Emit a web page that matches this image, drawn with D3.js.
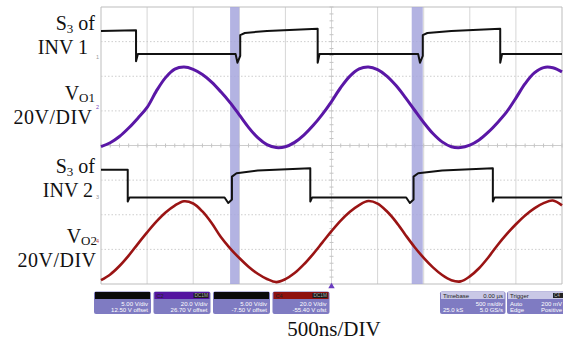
<!DOCTYPE html>
<html>
<head>
<meta charset="utf-8">
<script src="https://cdn.jsdelivr.net/npm/d3@7"></script>
<style>
  html, body { margin: 0; padding: 0; background: #fff; }
  svg { display: block; }
</style>
</head>
<body>
<svg id="scope" width="563" height="343"></svg>
<script>
// ---- acquisition data (time in µs, voltages in V) ----
const timeUs = [0.0,0.1,0.2,0.3,0.4,0.5,0.6,0.7,0.8,0.9,1.0,1.1,1.2,1.3,1.4,1.5,1.6,1.7,1.8,1.9,
                2.0,2.1,2.2,2.3,2.4,2.5,2.6,2.7,2.8,2.9,3.0,3.1,3.2,3.3,3.4,3.5,3.6,3.7,3.8,3.9,
                4.0,4.1,4.2,4.3,4.4,4.5,4.6,4.7,4.8,4.9,5.0];

// output voltage of inverter 1 (channel 2)
const vo1 = [-22.7,-20.4,-16.8,-11.9,-6.2,0.0,9.4,17.2,22.1,23.3,22.0,19.0,14.6,9.0,2.8,-4.3,-11.5,-17.5,-21.5,-23.2,
             -22.7,-20.2,-16.0,-10.5,-4.0,3.4,11.5,18.1,22.2,23.3,21.8,18.1,12.6,5.8,-1.5,-8.7,-15.1,-19.9,-22.7,-23.2,
             -21.8,-18.8,-14.3,-8.8,-2.6,5.4,13.7,19.9,23.0,22.9,20.5];

// output voltage of inverter 2 (channel 4)
const vo2 = [-22.4,-19.1,-14.2,-8.2,-1.4,5.2,11.4,16.7,20.7,23.2,21.9,17.3,10.6,2.5,-4.0,-9.6,-14.6,-18.7,-21.7,-23.5,
             -21.8,-18.3,-13.3,-7.3,-0.7,5.9,12.0,17.1,21.0,23.3,21.8,17.4,11.3,3.9,-3.2,-9.5,-15.0,-19.4,-22.4,-23.1,
             -20.2,-15.5,-9.3,-2.2,4.2,9.9,15.0,19.1,22.1,23.6,20.8];

// gate signal S3 of inverter 1 (channel 1): edge times and levels
const s3Inv1Time = [0.00,0.38,0.38,0.40,1.46,1.48,1.51,1.51,1.56,1.80,2.35,2.35,2.37,3.44,3.46,3.49,3.49,3.54,3.80,4.33,4.33,4.35,5.00];
const s3Inv1Volt = [3.8, 3.9, -0.6,0.45,0.45,-0.8,0.2, 3.2, 3.5, 3.8, 4.1, -0.8,0.45,0.45,-0.8,0.2, 3.2, 3.5, 3.8, 4.1, -0.8,0.45,0.45];

// gate signal S3 of inverter 2 (channel 3)
const s3Inv2Time = [0.00,0.29,0.29,0.31,1.34,1.38,1.42,1.42,1.47,1.70,2.27,2.27,2.29,3.31,3.35,3.39,3.39,3.44,3.70,4.25,4.25,4.27,5.00];
const s3Inv2Volt = [4.0, 4.0, -0.6,0.0, 0.0, -0.8,-0.3,3.0, 3.5, 3.9, 4.2, -0.6,0.0, 0.0, -0.8,-0.3,3.0, 3.5, 3.9, 4.2, -0.6,0.0, 0.0];

// dead-time windows highlighted on screen (µs)
const deadTimeStart = [1.40, 3.37];
const deadTimeEnd   = [1.50, 3.49];

// channel settings
const channelIds   = ["C1", "C2", "C3", "C4"];
const voltsPerDiv  = [5, 20, 5, 20];
const vdivLabels   = ["5.00 V/div", "20.0 V/div", "5.00 V/div", "20.0 V/div"];
const offsetLabels = ["12.50 V offset", "26.70 V offset", "-7.50 V offset", "-55.40 V ofst"];
const markerLabels = ["1", "2", "3", "4"];

// timebase / trigger readouts
const timebaseLabels = ["Timebase", "0.00 µs", "500 ns/div", "25.0 kS", "5.0 GS/s"];
const triggerLabels  = ["Trigger", "C4", "Auto", "200 mV", "Edge", "Positive"];

// ---- layout ----
const plot = { left: 101, right: 562, top: 7, bottom: 284 };
const zeroDiv = [2.55, 1.1, -1.5, -2.77];         // ground reference of each channel, in divisions
const colors = ["#111111", "#5a17a6", "#111111", "#9a1414"];

const svg = d3.select("#scope");

const x = d3.scaleLinear().domain([0, 5]).range([plot.left, plot.right]);
const yDiv = d3.scaleLinear().domain([-4, 4]).range([plot.bottom, plot.top]);
const yCh = ch => v => yDiv(v / voltsPerDiv[ch] + zeroDiv[ch]);

// ---- graticule ----
const grid = svg.append("g").attr("class", "graticule");
const vTicks = d3.range(0, 11).map(i => i * 0.5);
const hTicks = d3.range(-4, 5);

grid.selectAll("line.v").data(vTicks).join("line")
  .attr("class", "v")
  .attr("x1", d => x(d)).attr("x2", d => x(d))
  .attr("y1", plot.top).attr("y2", plot.bottom)
  .attr("stroke", d => (d === 0 || d === 5) ? "#bdbdbd" : "#d6d6d6")
  .attr("stroke-width", 1);

grid.selectAll("line.h").data(hTicks).join("line")
  .attr("class", "h")
  .attr("x1", plot.left).attr("x2", plot.right)
  .attr("y1", d => yDiv(d)).attr("y2", d => yDiv(d))
  .attr("stroke", d => (Math.abs(d) === 4) ? "#bdbdbd" : "#cdcdcd")
  .attr("stroke-dasharray", d => (Math.abs(d) === 4 || d === 0) ? null : "1.5,2")
  .attr("stroke-width", 1);

// minor ticks on the centre cross
const minorX = d3.range(0, 51).map(i => i * 0.1);
grid.selectAll("line.mx").data(minorX).join("line")
  .attr("x1", d => x(d)).attr("x2", d => x(d))
  .attr("y1", yDiv(0) - 2).attr("y2", yDiv(0) + 2)
  .attr("stroke", "#c4c4c4");
const minorY = d3.range(0, 41).map(i => -4 + i * 0.2);
grid.selectAll("line.my").data(minorY).join("line")
  .attr("x1", x(2.5) - 2).attr("x2", x(2.5) + 2)
  .attr("y1", d => yDiv(d)).attr("y2", d => yDiv(d))
  .attr("stroke", "#c4c4c4");

// ---- dead-time highlight bands ----
svg.append("g").selectAll("rect")
  .data(deadTimeStart.map((s, i) => [s, deadTimeEnd[i]]))
  .join("rect")
  .attr("x", d => x(d[0])).attr("width", d => x(d[1]) - x(d[0]))
  .attr("y", plot.top).attr("height", plot.bottom - plot.top)
  .attr("fill", "#a6a6dd").attr("opacity", 0.85);

// ---- traces ----
const traces = svg.append("g").attr("class", "traces");

function drawTrace(times, volts, ch, width, curve) {
  const line = d3.line()
    .x(d => x(d[0]))
    .y(d => yCh(ch)(d[1]))
    .curve(curve);
  traces.append("path")
    .datum(times.map((t, i) => [t, volts[i]]))
    .attr("d", line)
    .attr("fill", "none")
    .attr("stroke", colors[ch])
    .attr("stroke-width", width)
    .attr("stroke-linejoin", "round");
}

drawTrace(timeUs, vo2, 3, 2.6, d3.curveCatmullRom);
drawTrace(timeUs, vo1, 1, 3.0, d3.curveCatmullRom);
drawTrace(s3Inv2Time, s3Inv2Volt, 2, 2.0, d3.curveLinear);
drawTrace(s3Inv1Time, s3Inv1Volt, 0, 2.0, d3.curveLinear);

// channel ground markers at the left edge
svg.append("g").selectAll("text")
  .data(markerLabels)
  .join("text")
  .attr("x", plot.left - 2).attr("y", (d, i) => yCh(i)(0) + 2)
  .attr("text-anchor", "end")
  .attr("font-family", "Liberation Sans, Arial, sans-serif")
  .attr("font-size", 5.5)
  .attr("fill", (d, i) => i === 1 ? "#7a4cc0" : i === 3 ? "#c04040" : "#999")
  .text(d => d);

// trigger position marker
svg.append("path")
  .attr("d", d3.symbol().type(d3.symbolTriangle).size(18)())
  .attr("transform", `translate(${x(2.5)},${plot.bottom + 2.5})`)
  .attr("fill", "#6a3cc0");

// ---- channel labels ----
const serif = "Liberation Serif, Times New Roman, serif";
function sLabel(xr, yb, sub) {
  const t = svg.append("text").attr("x", xr).attr("y", yb)
    .attr("text-anchor", "end").attr("font-family", serif).attr("font-size", 20).attr("fill", "#111");
  t.append("tspan").text("S");
  t.append("tspan").attr("font-size", 13).attr("dy", 2.5).text(sub);
  t.append("tspan").attr("dy", -2.5).text(" of");
}
function vLabel(xr, yb, sub) {
  const t = svg.append("text").attr("x", xr).attr("y", yb)
    .attr("text-anchor", "end").attr("font-family", serif).attr("font-size", 20).attr("fill", "#111");
  t.append("tspan").text("V");
  t.append("tspan").attr("font-size", 13).attr("dy", 2.5).text(sub);
}
function plainLabel(xr, yb, txt, spacing) {
  svg.append("text").attr("x", xr).attr("y", yb)
    .attr("text-anchor", "end").attr("font-family", serif).attr("font-size", 20)
    .attr("letter-spacing", spacing || 0)
    .attr("fill", "#111").text(txt);
}
sLabel(95, 30, "3");
plainLabel(88, 53.5, "INV 1");
vLabel(95, 99.5, "O1");
plainLabel(92.5, 123.5, "20V/DIV", 0.5);
sLabel(95, 173, "3");
plainLabel(93, 197, "INV 2");
vLabel(97, 242.5, "O2");
plainLabel(96.5, 267, "20V/DIV", 0.5);

// time/div caption
svg.append("text").attr("x", 334).attr("y", 336)
  .attr("text-anchor", "middle").attr("font-family", serif).attr("font-size", 21)
  .attr("fill", "#111").text("500ns/DIV");

// ---- readout boxes ----
const sans = "Liberation Sans, Arial, sans-serif";
const boxBody = "#7f7bc2";
const headerFill = ["#0a0a0a", "#5314a0", "#0a0a0a", "#8e1010"];
const boxX = [94, 153.5, 213, 272.5];
const boxW = 57, boxTop = 291.5, boxH = 22.5, headH = 7;

const boxes = svg.append("g").selectAll("g")
  .data(channelIds).join("g")
  .attr("transform", (d, i) => `translate(${boxX[i]},${boxTop})`);
boxes.append("rect").attr("width", boxW).attr("height", boxH).attr("rx", 2)
  .attr("fill", boxBody);
boxes.append("rect").attr("x", 1).attr("y", 0.5).attr("width", boxW - 2).attr("height", headH)
  .attr("fill", (d, i) => headerFill[i]);
boxes.filter((d, i) => i % 2 === 1).append("text")
  .attr("x", 3).attr("y", 6).attr("font-family", sans).attr("font-size", 5.5)
  .attr("fill", "#222").text(d => d);
boxes.filter((d, i) => i % 2 === 1).append("rect")
  .attr("x", boxW - 17).attr("y", 1.5).attr("width", 15).attr("height", 5).attr("fill", "#1a1a1a");
boxes.filter((d, i) => i % 2 === 1).append("text")
  .attr("x", boxW - 2.5).attr("y", 5.8).attr("text-anchor", "end")
  .attr("font-family", sans).attr("font-size", 4.8).attr("fill", "#aaa").text("DC1M");
boxes.append("text").attr("x", boxW - 3).attr("y", 14)
  .attr("text-anchor", "end").attr("font-family", sans).attr("font-size", 6)
  .attr("fill", "#fff").text((d, i) => vdivLabels[i]);
boxes.append("text").attr("x", boxW - 3).attr("y", 20.5)
  .attr("text-anchor", "end").attr("font-family", sans).attr("font-size", 6)
  .attr("fill", "#fff").text((d, i) => offsetLabels[i]);

// timebase box
const tb = svg.append("g").attr("transform", `translate(440,${boxTop})`);
tb.append("rect").attr("width", 65.5).attr("height", boxH).attr("rx", 2).attr("fill", boxBody);
tb.append("rect").attr("x", 1).attr("y", 0.5).attr("width", 63.5).attr("height", headH).attr("fill", "#c9c8e6");
tb.append("text").attr("x", 3).attr("y", 6).attr("font-family", sans).attr("font-size", 6).attr("fill", "#222").text(timebaseLabels[0]);
tb.append("text").attr("x", 63).attr("y", 6).attr("text-anchor", "end").attr("font-family", sans).attr("font-size", 6).attr("fill", "#222").text(timebaseLabels[1]);
tb.append("text").attr("x", 63).attr("y", 14).attr("text-anchor", "end").attr("font-family", sans).attr("font-size", 6).attr("fill", "#fff").text(timebaseLabels[2]);
tb.append("text").attr("x", 3).attr("y", 20.5).attr("font-family", sans).attr("font-size", 6).attr("fill", "#fff").text(timebaseLabels[3]);
tb.append("text").attr("x", 63).attr("y", 20.5).attr("text-anchor", "end").attr("font-family", sans).attr("font-size", 6).attr("fill", "#fff").text(timebaseLabels[4]);

// trigger box
const tg = svg.append("g").attr("transform", `translate(507,${boxTop})`);
tg.append("rect").attr("width", 58).attr("height", boxH).attr("rx", 2).attr("fill", boxBody);
tg.append("rect").attr("x", 1).attr("y", 0.5).attr("width", 56).attr("height", headH).attr("fill", "#c9c8e6");
tg.append("text").attr("x", 3).attr("y", 6).attr("font-family", sans).attr("font-size", 6).attr("fill", "#222").text(triggerLabels[0]);
tg.append("rect").attr("x", 46).attr("y", 1.5).attr("width", 10).attr("height", 5).attr("fill", "#222");
tg.append("text").attr("x", 47).attr("y", 5.8).attr("font-family", sans).attr("font-size", 4.5).attr("fill", "#bbb").text(triggerLabels[1]);
tg.append("text").attr("x", 3).attr("y", 14).attr("font-family", sans).attr("font-size", 6).attr("fill", "#fff").text(triggerLabels[2]);
tg.append("text").attr("x", 55).attr("y", 14).attr("text-anchor", "end").attr("font-family", sans).attr("font-size", 6).attr("fill", "#fff").text(triggerLabels[3]);
tg.append("text").attr("x", 3).attr("y", 20.5).attr("font-family", sans).attr("font-size", 6).attr("fill", "#fff").text(triggerLabels[4]);
tg.append("text").attr("x", 55).attr("y", 20.5).attr("text-anchor", "end").attr("font-family", sans).attr("font-size", 6).attr("fill", "#fff").text(triggerLabels[5]);
</script>
</body>
</html>
